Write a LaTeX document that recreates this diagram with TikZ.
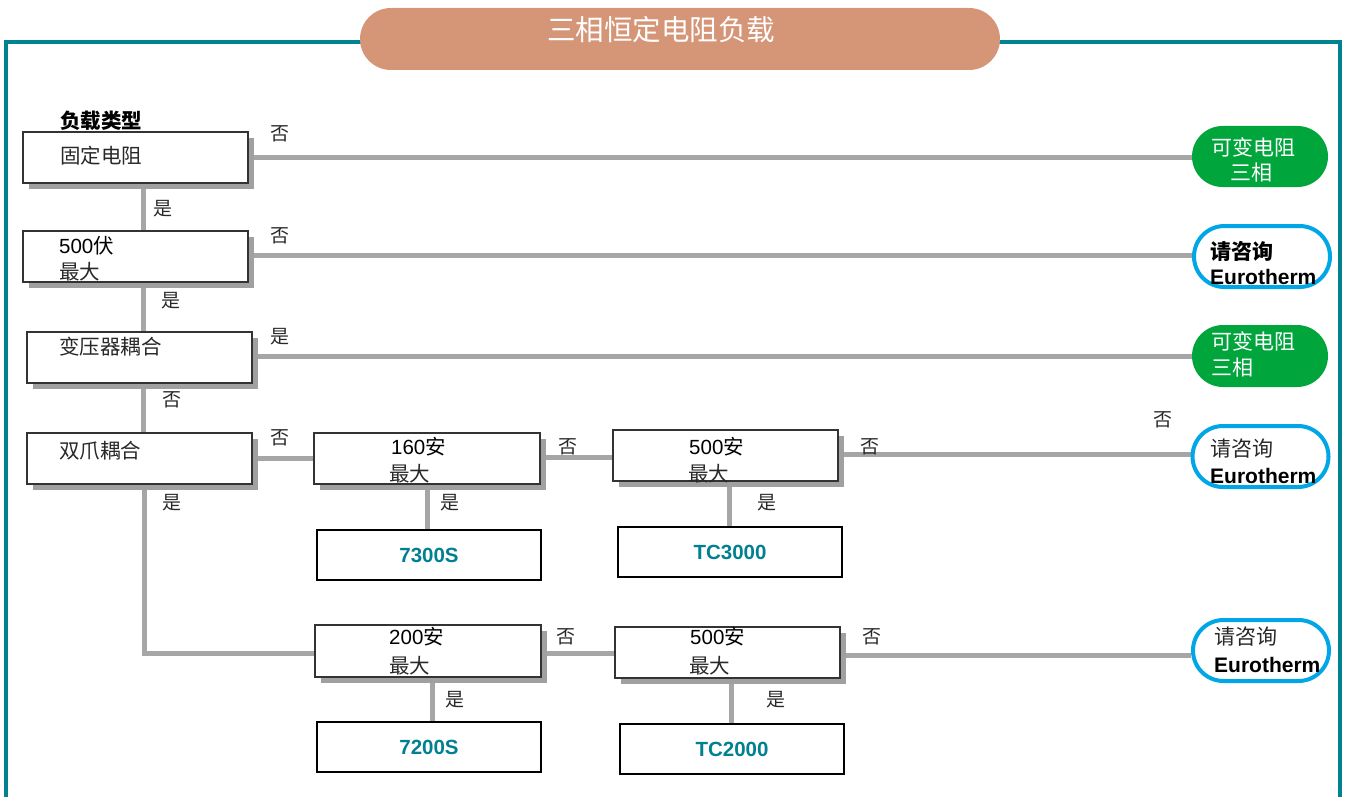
\documentclass[tikz,border=0pt]{standalone}
\usepackage{fontspec}
\setmainfont{Liberation Sans}
\newfontfamily\cjk{Noto Sans CJK SC}
\usetikzlibrary{shapes.misc,shadows,calc}
\definecolor{frameteal}{RGB}{0,130,145}
\definecolor{titlepill}{RGB}{213,149,119}
\definecolor{pillgreen}{RGB}{0,166,60}
\definecolor{pillblue}{RGB}{0,166,230}
\definecolor{shadowgray}{RGB}{160,160,160}
\definecolor{conngray}{RGB}{166,166,166}
\definecolor{txtgray}{RGB}{40,40,40}
\definecolor{prodteal}{RGB}{0,128,145}
\pgfdeclarelayer{background}
\pgfsetlayers{background,main}
\tikzset{
  qbox/.style={draw=black!80, line width=1.2pt, fill=white, minimum width=225pt, minimum height=51pt, inner sep=0pt,
    general shadow={fill=shadowgray, shadow xshift=6pt, shadow yshift=-6pt}},
  pbox/.style={draw=black, line width=2pt, fill=white, minimum width=224pt, minimum height=50pt, inner sep=0pt,
    font=\fontsize{20.5}{20.5}\selectfont\bfseries, text=prodteal},
  gpill/.style={rounded rectangle, fill=pillgreen, minimum width=136pt, minimum height=61pt, inner sep=0pt},
  bpill/.style={rounded rectangle, draw=pillblue, line width=4pt, fill=white, minimum width=136pt, minimum height=61pt, inner sep=0pt},
  conn/.style={draw=conngray, line width=5pt},
  ltxt/.style={anchor=west, inner sep=0pt, text=txtgray, font=\fontsize{20.5}{20.5}\selectfont},
  ctxt/.style={anchor=west, inner sep=0pt, text=txtgray, font=\fontsize{20.5}{20.5}\selectfont\cjk},
  yn/.style={inner sep=0pt, text=txtgray, font=\fontsize{19}{19}\selectfont\cjk},
  wtxt/.style={anchor=west, inner sep=0pt, text=white, font=\fontsize{21}{21}\selectfont\cjk},
  btxt/.style={anchor=west, inner sep=0pt, text=black, font=\fontsize{21}{21}\selectfont},
}
\begin{document}
\begin{tikzpicture}[x=1pt,y=-1pt]
\useasboundingbox (0,0) rectangle (1347,797);
% frame
\draw[frameteal, line width=4pt] (6,797) -- (6,42) -- (1340,42) -- (1340,797);
% title
\node[rounded rectangle, fill=titlepill, minimum width=640pt, minimum height=62pt, inner sep=0pt] (title) at (680,39) {};
\node[inner sep=0pt, text=white, font=\fontsize{28.5}{28.5}\selectfont\cjk] (titletxt) at (661,30) {三相恒定电阻负载};

% question boxes
\node[qbox] (b1) at (135.5,157.5) {};
\node[qbox] (b2) at (135.5,256.5) {};
\node[qbox] (b3) at (139.5,357.5) {};
\node[qbox] (b4) at (139.5,458.5) {};
\node[qbox, minimum width=226pt] (b5) at (427,458.5) {};
\node[qbox] (b6) at (725.5,455.5) {};
\node[qbox, minimum width=226pt, minimum height=52pt] (b9) at (428,651) {};
\node[qbox] (b10) at (727.5,652.5) {};

% product boxes
\node[pbox] (p1) at (429,555) {7300S};
\node[pbox] (p2) at (730,552) {TC3000};
\node[pbox] (p3) at (429,747) {7200S};
\node[pbox] (p4) at (732,749) {TC2000};

% end pills
\node[gpill] (g1) at (1260,156.5) {};
\node[gpill, minimum height=62pt] (g2) at (1260,356) {};
\node[bpill] (e1) at (1262,256.5) {};
\node[bpill] (e2) at (1260.5,456.5) {};
\node[bpill] (e3) at (1261,650.5) {};

% connectors
\begin{pgfonlayer}{background}
\draw[conn] (b1.east) -- (b1.east -| g1.west);
\draw[conn] ([yshift=1.5pt]b2.east) -- ([yshift=1.5pt]b2.east -| e1.west);
\draw[conn] ([yshift=1.5pt]b3.east) -- ([yshift=1.5pt]b3.east -| g2.west);
\draw[conn] (b4.east) -- (b4.east -| b5.west);
\draw[conn] ([yshift=1.5pt]b5.east) -- ([yshift=1.5pt]b5.east -| b6.west);
\draw[conn] ([yshift=1.5pt]b6.east) -- ([yshift=1.5pt]b6.east -| e2.west);
\draw[conn] ([yshift=-2pt]b9.east) -- ([yshift=-2pt]b9.east -| b10.west);
\draw[conn] ([yshift=-2.5pt]b10.east) -- ([yshift=-2.5pt]b10.east -| e3.west);
\draw[conn] ([xshift=7.5pt]b1.south) -- ([xshift=7.5pt]b1.south |- b2.north);
\draw[conn] ([xshift=7.5pt]b2.south) -- ([xshift=7.5pt]b2.south |- b3.north);
\draw[conn] ([xshift=3.5pt]b3.south) -- ([xshift=3.5pt]b3.south |- b4.north);
\draw[conn] ([xshift=4.5pt]b4.south) |- ([yshift=-2pt]b9.west);
\draw[conn] (b5.south) -- (b5.south |- p1.north);
\draw[conn] ([xshift=3.5pt]b6.south) -- ([xshift=3.5pt]b6.south |- p2.north);
\draw[conn] ([xshift=4pt]b9.south) -- ([xshift=4pt]b9.south |- p3.north);
\draw[conn] ([xshift=3.5pt]b10.south) -- ([xshift=3.5pt]b10.south |- p4.north);
\end{pgfonlayer}

% box texts
\node[ctxt, text=black, font=\fontsize{20.5}{20.5}\selectfont\cjk\bfseries] (t0) at (60,121) {负载类型};
\node[ctxt] (t1) at (60,156) {固定电阻};
\node[ltxt, text=black] (t2a) at (59,246) {500{\cjk 伏}};
\node[ctxt] (t2b) at (59,272) {最大};
\node[ctxt] (t3) at (59,347) {变压器耦合};
\node[ctxt] (t4) at (59,451) {双爪耦合};
\node[ltxt, text=black] (t5a) at (391,447) {160{\cjk 安}};
\node[ctxt] (t5b) at (389,474) {最大};
\node[ltxt, text=black] (t6a) at (689,447) {500{\cjk 安}};
\node[ctxt] (t6b) at (688,474) {最大};
\node[ltxt, text=black] (t9a) at (389,637) {200{\cjk 安}};
\node[ctxt] (t9b) at (389,666) {最大};
\node[ltxt, text=black] (t10a) at (690,637) {500{\cjk 安}};
\node[ctxt] (t10b) at (689,666) {最大};

% pill texts
\node[wtxt] (g1a) at (1211,147) {可变电阻};
\node[wtxt] (g1b) at (1230,173) {三相};
\node[wtxt] (g2a) at (1211,341) {可变电阻};
\node[wtxt] (g2b) at (1211,368) {三相};
\node[btxt, font=\fontsize{21}{21}\selectfont\cjk\bfseries] (e1a) at (1210,251) {请咨询};
\node[btxt, font=\fontsize{21}{21}\selectfont\bfseries] (e1b) at (1210,277) {Eurotherm};
\node[btxt, text=txtgray, font=\fontsize{21}{21}\selectfont\cjk] (e2a) at (1210,449) {请咨询};
\node[btxt, font=\fontsize{21}{21}\selectfont\bfseries] (e2b) at (1210,476) {Eurotherm};
\node[btxt, text=txtgray, font=\fontsize{21}{21}\selectfont\cjk] (e3a) at (1214,637) {请咨询};
\node[btxt, font=\fontsize{21}{21}\selectfont\bfseries] (e3b) at (1214,665) {Eurotherm};

% yes/no labels
\node[yn] (l1) at (280,134) {否};
\node[yn] (l2) at (163,209) {是};
\node[yn] (l3) at (280,236) {否};
\node[yn] (l4) at (171,301) {是};
\node[yn] (l5) at (280,337) {是};
\node[yn] (l6) at (172,400) {否};
\node[yn] (l7) at (280,438) {否};
\node[yn] (l8) at (172,503) {是};
\node[yn] (l9) at (568,447) {否};
\node[yn] (l10) at (450,503) {是};
\node[yn] (l11) at (870,447) {否};
\node[yn] (l12) at (1163,420) {否};
\node[yn] (l13) at (767,503) {是};
\node[yn] (l14) at (566,637) {否};
\node[yn] (l15) at (455,700) {是};
\node[yn] (l16) at (872,637) {否};
\node[yn] (l17) at (776,700) {是};
\end{tikzpicture}
\end{document}
